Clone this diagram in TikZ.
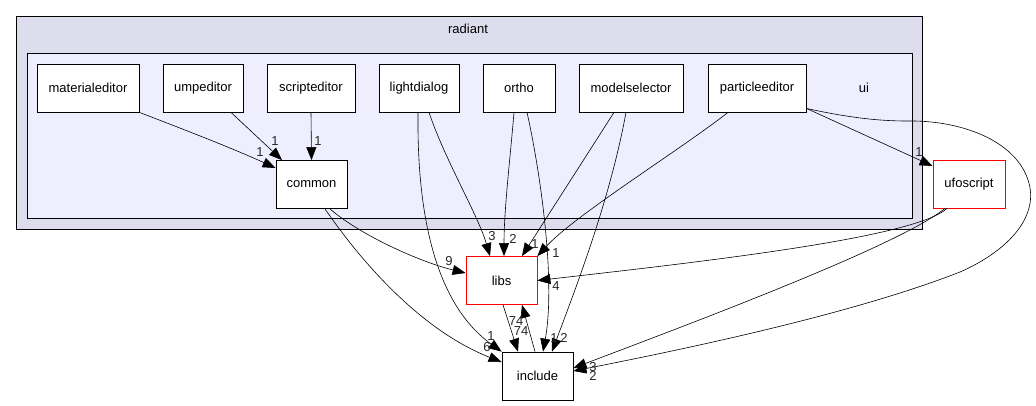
\documentclass[tikz,border=0pt]{standalone}
\usepackage{fontspec}
\setmainfont{Liberation Sans}
\usetikzlibrary{arrows.meta}
\definecolor{outerbg}{HTML}{DDDDEE}
\definecolor{innerbg}{HTML}{EEEEFF}

\begin{document}
\begin{tikzpicture}[x=1pt,y=-1pt,
    font=\fontsize{13}{15}\selectfont,
    dirbox/.style={draw=black,fill=white,line width=0.8pt,inner sep=0pt,minimum height=48pt,minimum width=#1},
    dirbox/.default=72pt,
    extbox/.style={dirbox=#1,draw=red},
    extbox/.default=72pt,
    dep/.style={-{Triangle[length=13pt,width=10pt]},line width=0.6pt},
    cnt/.style={inner sep=0pt,text=black!85}]
  \useasboundingbox (0,0) rectangle (1036,405);
  \draw[fill=outerbg,line width=0.8pt] (16,16) rectangle (922,229);
  \draw[fill=innerbg,line width=0.8pt] (27,53) rectangle (912,218);
  \node[] (radiant) at (468,29) {radiant};
  \node[] (ui) at (864,88) {ui};

  \node[dirbox=102pt] (materialeditor) at (88,88) {materialeditor};
  \node[dirbox=80pt] (umpeditor) at (203,88) {umpeditor};
  \node[dirbox=88pt] (scripteditor) at (311,88) {scripteditor};
  \node[dirbox=80pt] (lightdialog) at (419,88) {lightdialog};
  \node[dirbox=72pt] (ortho) at (519,88) {ortho};
  \node[dirbox=104pt] (modelselector) at (631,88) {modelselector};
  \node[dirbox=98pt] (particleeditor) at (757,88) {particleeditor};
  \node[dirbox=71pt] (common) at (311.5,184.5) {common};
  \node[extbox] (ufoscript) at (969,184) {ufoscript};
  \node[extbox=71pt] (libs) at (501.5,280.5) {libs};
  \node[dirbox=71pt] (include) at (537.5,376) {include};

  \draw[dep] (materialeditor.south east) .. controls (180,128) and (232,148) .. ([yshift=16.5pt]common.west);
  \draw[dep] ([xshift=28pt]umpeditor.south) -- ([xshift=-29.5pt]common.north);
  \draw[dep] (scripteditor.south) -- (common.north);
  \draw[dep] ([xshift=10pt]lightdialog.south) .. controls (445,160) and (478,215) .. ([xshift=-11.5pt]libs.north);
  \draw[dep] ([xshift=-1pt]lightdialog.south) .. controls (417,200) and (430,300) .. (include.north west);
  \draw[dep] ([xshift=-5pt]ortho.south) .. controls (510,160) and (504,210) .. ([xshift=2.5pt]libs.north);
  \draw[dep] ([xshift=8pt]ortho.south) .. controls (540,170) and (556,280) .. ([xshift=5.5pt]include.north);
  \draw[dep] ([xshift=-17pt]modelselector.south) -- ([xshift=20.5pt]libs.north);
  \draw[dep] ([xshift=-5pt]modelselector.south) .. controls (610,200) and (575,290) .. ([xshift=14.5pt]include.north);
  \draw[dep] ([xshift=-29pt]particleeditor.south) .. controls (680,150) and (575,215) .. (libs.north east);
  \draw[dep] ([yshift=4pt]particleeditor.south east) -- ([yshift=18pt]ufoscript.west);
  \draw[dep] ([yshift=4pt]particleeditor.south east) .. controls (850,118) and (880,121) .. (907,121)
    .. controls (960,120) and (1015,140) .. (1028,180)
    .. controls (1040,215) and (1010,250) .. (960,272)
    .. controls (850,315) and (680,350) .. ([yshift=5pt]include.east);
  \draw[dep] ([xshift=18.5pt]common.south) .. controls (360,235) and (420,262) .. ([yshift=7.5pt]libs.west);
  \draw[dep] ([xshift=13.5pt]common.south) .. controls (360,260) and (420,330) .. ([yshift=14pt]include.west);
  \draw[dep] ([xshift=-22pt]ufoscript.south) .. controls (915,238) and (700,262) .. (libs.east);
  \draw[dep] ([xshift=-24pt]ufoscript.south) .. controls (900,245) and (700,320) .. ([yshift=8pt]include.east);
  \draw[dep] ([xshift=1.5pt]libs.south) -- ([xshift=-19.5pt]include.north);
  \draw[dep] ([xshift=-2.5pt]include.north) -- ([xshift=20.5pt]libs.south);

  \node[cnt] (n1) at (260,152) {1};
  \node[cnt] (n2) at (275,141) {1};
  \node[cnt] (n3) at (318,141) {1};
  \node[cnt] (n4) at (492,236) {3};
  \node[cnt] (n5) at (513,239) {2};
  \node[cnt] (n6) at (535,244) {1};
  \node[cnt] (n7) at (556,253) {1};
  \node[cnt] (n8) at (449,261) {9};
  \node[cnt] (n9) at (556,286) {4};
  \node[cnt] (n10) at (516,321) {74};
  \node[cnt] (n11) at (521,331) {74};
  \node[cnt] (n12) at (491,336) {1};
  \node[cnt] (n13) at (487,347) {6};
  \node[cnt] (n14) at (554,338) {1};
  \node[cnt] (n15) at (564,338) {2};
  \node[cnt] (n16) at (593,367) {3};
  \node[cnt] (n17) at (593,376) {2};
  \node[cnt] (n18) at (919,152) {1};
\end{tikzpicture}
\end{document}
